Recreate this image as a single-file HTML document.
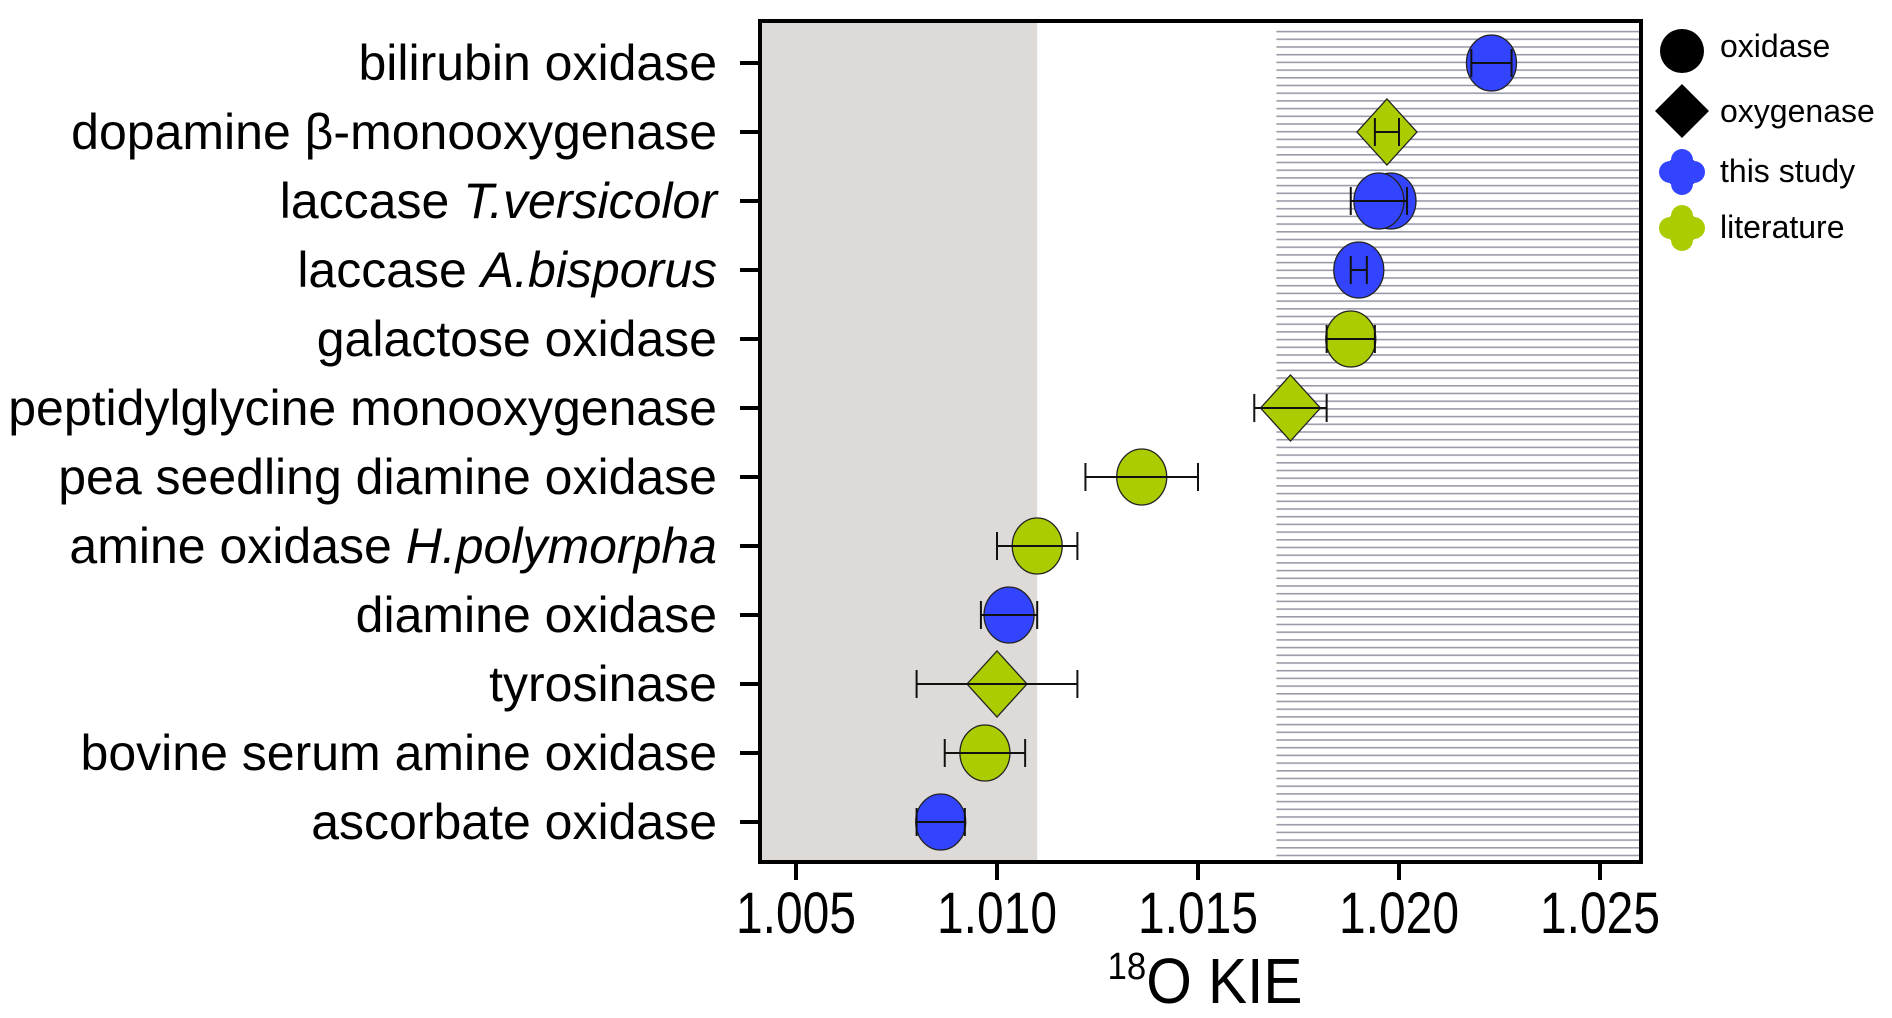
<!DOCTYPE html>
<html><head><meta charset="utf-8"><style>
html,body{margin:0;padding:0;background:#fff;}
svg{display:block;font-family:"Liberation Sans",Arial,sans-serif;}
</style></head><body>
<svg id="chart" width="1892" height="1018" viewBox="0 0 1892 1018" xmlns="http://www.w3.org/2000/svg">
<defs>
<pattern id="hatch" patternUnits="userSpaceOnUse" width="10" height="7.7">
<rect x="0" y="0" width="10" height="1.6" fill="#9a9aa8"/>
</pattern>
</defs>
<g id="bg"></g>
<g id="marks"></g>
<g id="axes"></g>
<g id="legend"></g>
</svg>
<script>
const categories = ["bilirubin oxidase","dopamine β-monooxygenase","laccase T.versicolor","laccase A.bisporus","galactose oxidase","peptidylglycine monooxygenase","pea seedling diamine oxidase","amine oxidase H.polymorpha","diamine oxidase","tyrosinase","bovine serum amine oxidase","ascorbate oxidase"];
const italicParts = ["","","T.versicolor","A.bisporus","","","","H.polymorpha","","","",""];
const kieValues = [1.0223,1.0197,1.0195,1.0190,1.0188,1.0173,1.0136,1.0110,1.0103,1.0100,1.0097,1.0086];
const kieErrors = [0.0005,0.0003,0.0007,0.0002,0.0006,0.0009,0.0014,0.0010,0.0007,0.0020,0.0010,0.0006];
const enzymeType = ["oxidase","oxygenase","oxidase","oxidase","oxidase","oxygenase","oxidase","oxidase","oxidase","oxygenase","oxidase","oxidase"];
const source = ["this","lit","this","this","lit","lit","lit","lit","this","lit","lit","this"];
const xTicks = [1.005,1.010,1.015,1.020,1.025];
const xTickLabels = ["1.005","1.010","1.015","1.020","1.025"];
const grayRegionMax = 1.011;
const hatchRegionMin = 1.017;

const NS="http://www.w3.org/2000/svg";
const L=760,R=1641,T=21,B=862;
function x(v){return 796+(v-1.005)*40200;}
function y(i){return 63+i*69;}
function mk(tag,attrs,parent){const e=document.createElementNS(NS,tag);for(const k in attrs)e.setAttribute(k,attrs[k]);parent.appendChild(e);return e;}
const bg=document.getElementById('bg'),marks=document.getElementById('marks'),axes=document.getElementById('axes'),leg=document.getElementById('legend');

let g1=mk('rect',{x:L,y:T,width:x(grayRegionMax)-L,height:B-T,fill:'#dedad8'},bg);


let h1=mk('rect',{x:x(hatchRegionMin)-2,y:T+4,width:R-x(hatchRegionMin)+2,height:B-T-4,fill:'url(#hatch)'},bg);



const colors={this:'#3344ff',lit:'#aacc00'};
kieValues.forEach((v,i)=>{
  const cx=x(v),cy=y(i),g=mk('g',{},marks);
  
  
  const fill=colors[source[i]];
  if(enzymeType[i]==='oxygenase'){
    mk('polygon',{points:`${cx-30},${cy} ${cx},${cy-33} ${cx+30},${cy} ${cx},${cy+33}`,fill:fill,stroke:'#222','stroke-width':1.3},g);
  }else{
    if(i===2) mk('ellipse',{cx:x(v+0.0003),cy:cy,rx:25,ry:28,fill:fill,stroke:'#222','stroke-width':1.3},g);
    mk('ellipse',{cx:cx,cy:cy,rx:25,ry:28,fill:fill,stroke:'#222','stroke-width':1.3},g);
  }
  const e=kieErrors[i],x1=x(v-e),x2=x(v+e);
  mk('line',{x1:x1,x2:x2,y1:cy,y2:cy,stroke:'#111','stroke-width':2},g);
  mk('line',{x1:x1,x2:x1,y1:cy-14,y2:cy+14,stroke:'#111','stroke-width':2},g);
  mk('line',{x1:x2,x2:x2,y1:cy-14,y2:cy+14,stroke:'#111','stroke-width':2},g);
});

let frame=mk('rect',{x:L,y:T,width:R-L,height:B-T,fill:'none',stroke:'#000','stroke-width':4},axes);



categories.forEach((c,i)=>{
  mk('line',{x1:740,x2:L,y1:y(i),y2:y(i),stroke:'#000','stroke-width':4},axes);
  const t=mk('text',{x:717,y:y(i)+17,'text-anchor':'end','font-size':50,fill:'#000'},axes);
  
  
  const it=italicParts[i];
  if(it){
    const pre=c.slice(0,c.length-it.length);
    const s1=mk('tspan',{},t);s1.textContent=pre;
    const s2=mk('tspan',{'font-style':'italic'},t);s2.textContent=it;
  }else t.textContent=c;
});

xTicks.forEach((v,i)=>{
  mk('line',{x1:x(v),x2:x(v),y1:B,y2:B+18,stroke:'#000','stroke-width':4},axes);
  const t=mk('text',{x:x(v),y:933,'text-anchor':'middle','font-size':58,textLength:120,lengthAdjust:'spacingAndGlyphs',fill:'#000'},axes);
  
  
  t.textContent=xTickLabels[i];
});

const xt=mk('text',{x:1205,y:1003,'text-anchor':'middle','font-size':64,fill:'#000',textLength:195,lengthAdjust:'spacingAndGlyphs'},axes);


const sup=mk('tspan',{'font-size':38,dy:-24},xt);sup.textContent='18';
const rest=mk('tspan',{dy:24},xt);rest.textContent='O KIE';

// legend
function legText(yb,txt){const t=mk('text',{x:1720,y:yb,'font-size':32,fill:'#000'},leg);t.textContent=txt;}
mk('circle',{cx:1682,cy:51,r:22,fill:'#000'},leg);legText(57,'oxidase');
mk('polygon',{points:'1655,111 1682,84 1709,111 1682,138',fill:'#000'},leg);legText(122,'oxygenase');
function flower(cy,col){[[0,-12],[0,12],[-12,0],[12,0]].forEach(d=>mk('circle',{cx:1682+d[0],cy:cy+d[1],r:11,fill:col},leg));mk('rect',{x:1670,y:cy-12,width:24,height:24,fill:col},leg);}
flower(172,'#3344ff');legText(182,'this study');
flower(228,'#aacc00');legText(238,'literature');
</script>
</body></html>
